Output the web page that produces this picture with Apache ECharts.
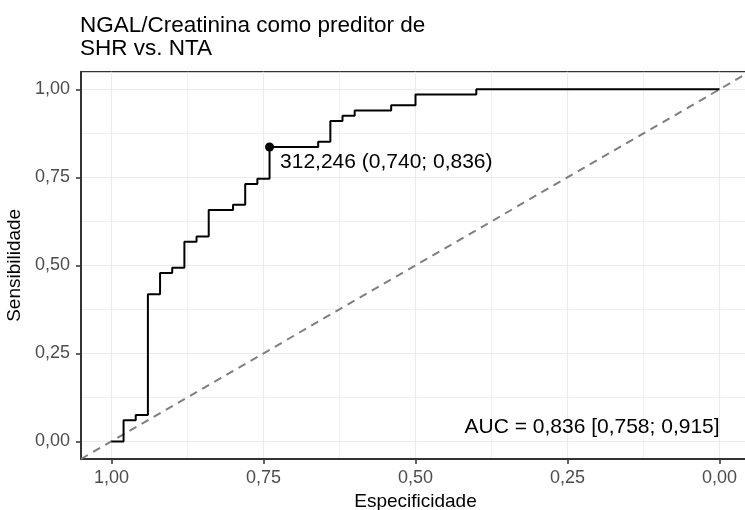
<!DOCTYPE html>
<html>
<head>
<meta charset="utf-8">
<title>NGAL/Creatinina ROC</title>
<script src="https://cdn.jsdelivr.net/npm/echarts@6/dist/echarts.min.js"></script>
<style>
  html, body { margin: 0; padding: 0; background: #ffffff; }
  #chart { width: 745px; height: 510px; }
</style>
</head>
<body>
<div id="chart"></div>
<script>
// ROC curve vertices (specificity, sensitivity)
var specificity = [1.00, 0.98, 0.98, 0.96, 0.96, 0.94, 0.94, 0.92, 0.92, 0.90, 0.90, 0.88, 0.88, 0.86,
  0.86, 0.84, 0.84, 0.80, 0.80, 0.78, 0.78, 0.76, 0.76, 0.74, 0.74, 0.66, 0.66, 0.64, 0.64, 0.62,
  0.62, 0.60, 0.60, 0.54, 0.54, 0.50, 0.50, 0.40, 0.40, 0.00];
var sensitivity = [0.000, 0.000, 0.060, 0.060, 0.075, 0.075, 0.418, 0.418, 0.478, 0.478, 0.493, 0.493,
  0.567, 0.567, 0.582, 0.582, 0.657, 0.657, 0.672, 0.672, 0.731, 0.731, 0.746, 0.746, 0.836, 0.836,
  0.851, 0.851, 0.910, 0.910, 0.925, 0.925, 0.940, 0.940, 0.955, 0.955, 0.985, 0.985, 1.000, 1.000];

// best threshold and AUC with its CI
var bestThreshold = 312.246;
var bestPoint = [0.740, 0.836];
var aucValues = [0.836, 0.758, 0.915];

// axis breaks
var majorBreaks = [0, 0.25, 0.5, 0.75, 1];
var minorBreaks = [0.125, 0.375, 0.625, 0.875];
var axisRange = [-0.05, 1.05];

var FONT = "'Liberation Sans', Arial, Helvetica, sans-serif";

function fmt(v, d) { // decimal comma like the original
  return Number(v).toFixed(d).replace('.', ',');
}

var rocData = specificity.map(function (s, i) { return [s, sensitivity[i]]; });
var diagData = [[axisRange[1], axisRange[0]], [axisRange[0], axisRange[1]]]; // y = 1 - x

function majorAxis(isX) {
  return {
    type: 'value',
    inverse: isX,
    min: axisRange[0],
    max: axisRange[1],
    name: isX ? 'Especificidade' : 'Sensibilidade',
    nameLocation: 'middle',
    nameGap: isX ? 32 : 51,
    nameTextStyle: { color: '#000000', fontSize: 19, fontFamily: FONT },
    axisLine: { show: true, onZero: false, lineStyle: { color: '#333333', width: 2 } },
    axisTick: { show: true, length: 5, customValues: majorBreaks, lineStyle: { color: '#333333', width: 1.5 } },
    axisLabel: {
      customValues: majorBreaks,
      margin: isX ? 10 : 11,
      color: '#4D4D4D',
      fontSize: 18,
      fontFamily: FONT,
      formatter: function (v) { return fmt(v, 2); }
    },
    splitLine: { show: true, lineStyle: { color: '#EBEBEB', width: 1.2 } }
  };
}

function minorAxis(isX) {
  return {
    type: 'value',
    inverse: isX,
    min: axisRange[0],
    max: axisRange[1],
    position: isX ? 'bottom' : 'left',
    axisLine: { show: false },
    axisTick: { show: false, customValues: minorBreaks },
    axisLabel: { show: false, customValues: minorBreaks },
    splitLine: { show: true, lineStyle: { color: '#EBEBEB', width: 0.7 } }
  };
}

var chart = echarts.init(document.getElementById('chart'), null, { renderer: 'canvas' });

var option = {
  backgroundColor: '#ffffff',
  animation: false,
  title: {
    text: 'NGAL/Creatinina como preditor de\nSHR vs. NTA',
    left: 80,
    top: 14,
    padding: 0,
    textStyle: { color: '#000000', fontSize: 22.5, fontWeight: 'normal', fontFamily: FONT, lineHeight: 23.4 }
  },
  grid: {
    left: 81,
    top: 71.7,
    width: 669,
    height: 387.3,
    show: true,
    borderColor: '#333333',
    borderWidth: 1.2,
    containLabel: false,
    outerBoundsMode: 'none'
  },
  xAxis: [majorAxis(true), minorAxis(true)],
  yAxis: [majorAxis(false), minorAxis(false)],
  series: [
    { // chance line
      type: 'line',
      data: diagData,
      symbol: 'none',
      silent: true,
      lineStyle: { color: '#7F7F7F', width: 2, type: [8, 6] },
      z: 2
    },
    { // ROC curve
      type: 'line',
      data: rocData,
      symbol: 'none',
      silent: true,
      lineStyle: { color: '#000000', width: 2 },
      z: 3
    },
    { // best threshold
      type: 'scatter',
      data: [bestPoint],
      symbolSize: 9,
      itemStyle: { color: '#000000', opacity: 1 },
      label: {
        show: true,
        position: 'right',
        distance: 5,
        offset: [1, 15],
        color: '#000000',
        fontSize: 21,
        fontFamily: FONT,
        formatter: function () {
          return fmt(bestThreshold, 3) + ' (' + fmt(bestPoint[0], 3) + '; ' + fmt(bestPoint[1], 3) + ')';
        }
      },
      z: 4
    },
    { // AUC text, anchored at the bottom right
      type: 'scatter',
      data: [[0, 0.04]],
      symbolSize: 0,
      silent: true,
      itemStyle: { opacity: 1 },
      label: {
        show: true,
        position: 'inside',
        align: 'right',
        verticalAlign: 'middle',
        color: '#000000',
        fontSize: 21,
        fontFamily: FONT,
        formatter: function () {
          return 'AUC = ' + fmt(aucValues[0], 3) + ' [' + fmt(aucValues[1], 3) + '; ' + fmt(aucValues[2], 3) + ']';
        }
      },
      z: 4
    }
  ]
};

chart.setOption(option);
</script>
</body>
</html>
